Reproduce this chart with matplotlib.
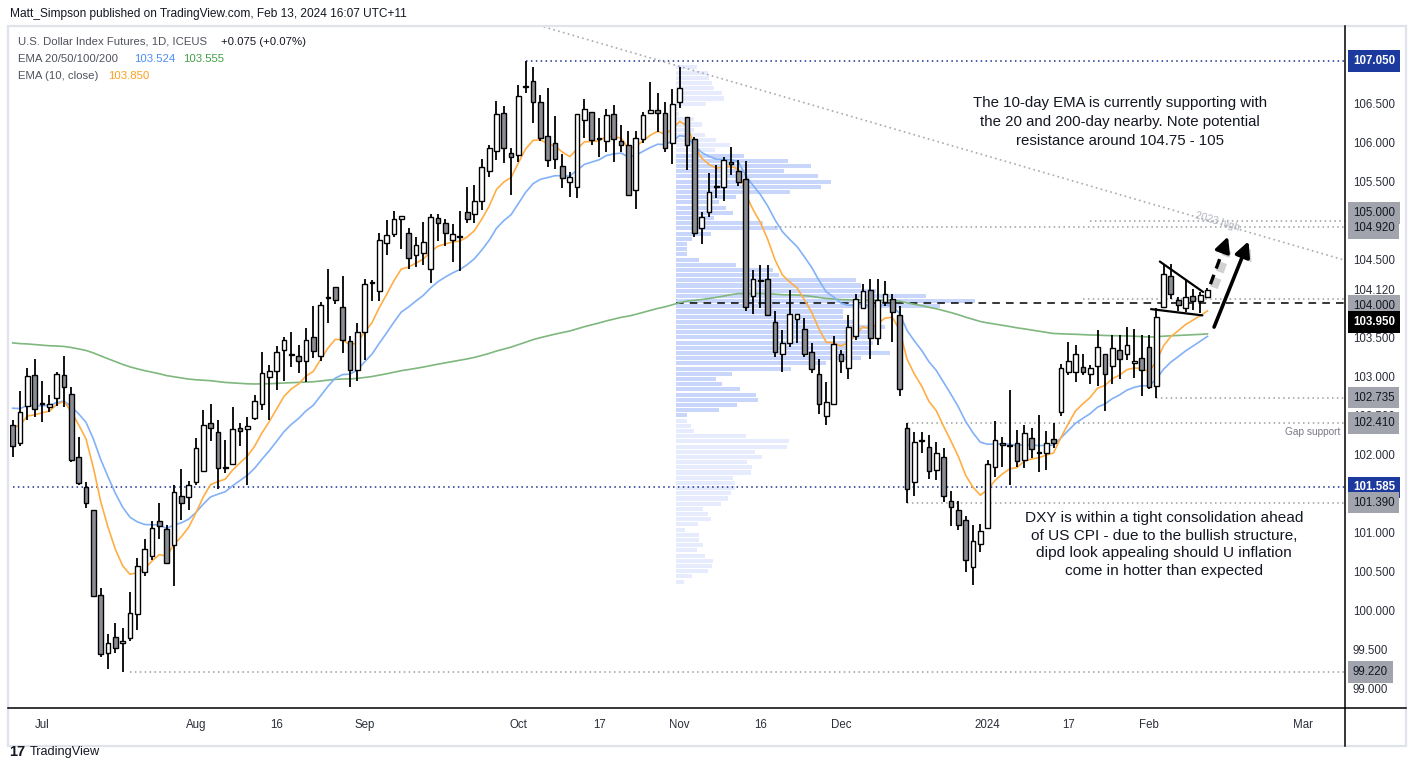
import matplotlib
matplotlib.use("Agg")
import matplotlib.pyplot as plt
import matplotlib.patheffects as pe
from matplotlib.lines import Line2D
from matplotlib.patches import Rectangle
import numpy as np
import pandas as pd

# daily DX futures bars, 27 Jun 2023 .. 13 Feb 2024 (ICE has no bar on Dec 25 / Jan 1)
first_day = "2023-06-27"
holidays = ["2023-12-25", "2024-01-01"]

opens = [102.38, 102.15, 102.63, 103.03, 102.65, 102.62, 102.73, 103.02, 102.78, 101.97,
         101.59, 101.29, 100.20, 99.46, 99.66, 99.59, 99.65, 99.96, 100.50, 100.71,
         101.15, 101.05, 100.84, 101.47, 101.46, 101.65, 101.80, 102.41, 102.29, 101.85,
         101.89, 102.34, 102.33, 102.48, 102.66, 103.00, 103.08, 103.35, 103.30, 103.27,
         103.21, 103.51, 103.27, 104.01, 104.15, 103.90, 103.46, 103.09, 103.58, 104.20,
         104.10, 104.72, 104.83, 105.02, 104.84, 104.56, 104.59, 104.38, 105.04, 104.97,
         104.76, 104.79, 105.12, 105.09, 105.25, 105.64, 105.90, 106.38, 105.87, 105.85,
         106.72, 106.80, 106.52, 106.09, 106.00, 105.71, 105.50, 105.44, 106.29, 106.40,
         106.05, 106.03, 106.37, 106.03, 105.98, 105.40, 106.05, 106.39, 106.42, 106.38,
         106.00, 106.52, 106.33, 106.05, 104.91, 105.12, 105.44, 105.43, 105.75, 105.64,
         105.54, 104.04, 104.23, 104.25, 103.70, 103.30, 103.43, 103.74, 103.62, 103.32,
         103.04, 102.50, 102.65, 103.29, 103.11, 103.52, 103.89, 104.11, 103.50, 103.96,
         104.00, 103.79, 102.35, 101.65, 102.18, 102.10, 101.81, 101.98, 101.41, 101.30,
         101.17, 100.56, 100.86, 101.06, 101.84, 102.16, 102.11, 102.16, 101.94, 102.22,
         102.03, 102.03, 102.20, 102.55, 103.06, 103.07, 103.13, 103.04, 103.14, 103.30,
         103.14, 103.34, 103.30, 103.18, 103.24, 103.38, 102.89, 103.90, 104.30, 103.99,
         103.88, 104.04, 103.97, 104.03]
highs = [102.45, 102.82, 103.11, 103.23, 102.95, 102.77, 103.06, 103.27, 102.87, 102.23,
         101.65, 101.29, 100.29, 99.70, 99.85, 99.78, 100.24, 100.68, 100.92, 101.15,
         101.39, 101.10, 101.61, 101.82, 101.67, 102.22, 102.58, 102.65, 102.45, 102.19,
         102.62, 102.41, 102.49, 102.77, 103.32, 103.15, 103.40, 103.51, 103.58, 103.41,
         103.63, 103.91, 103.96, 104.38, 104.15, 104.29, 103.52, 103.69, 104.26, 104.24,
         104.85, 105.01, 105.13, 105.06, 104.91, 104.80, 104.99, 105.09, 105.09, 105.03,
         104.96, 105.13, 105.44, 105.46, 105.79, 105.97, 106.54, 106.48, 105.93, 106.74,
         107.05, 106.97, 106.62, 106.70, 106.35, 105.86, 105.63, 106.37, 106.56, 106.40,
         106.32, 106.44, 106.49, 106.23, 106.15, 106.15, 106.40, 106.78, 106.64, 106.52,
         106.69, 106.98, 106.33, 106.08, 105.11, 105.61, 105.72, 105.82, 105.95, 105.78,
         105.77, 104.37, 104.44, 104.44, 103.85, 103.60, 104.11, 103.81, 103.75, 103.43,
         103.23, 102.94, 103.53, 103.35, 103.79, 104.07, 104.19, 104.26, 104.26, 104.23,
         104.07, 103.91, 102.41, 102.29, 102.29, 102.26, 102.17, 102.09, 101.54, 101.41,
         101.22, 101.10, 101.12, 101.94, 102.43, 102.23, 102.83, 102.32, 102.38, 102.34,
         102.51, 102.31, 102.41, 103.17, 103.45, 103.41, 103.30, 103.15, 103.60, 103.30,
         103.54, 103.54, 103.64, 103.62, 103.54, 103.54, 103.89, 104.45, 104.45, 104.03,
         104.25, 104.13, 104.09, 104.14]
lows = [101.97, 102.12, 102.45, 102.49, 102.42, 102.55, 102.63, 102.62, 101.91, 101.61,
        101.32, 100.19, 99.41, 99.26, 99.46, 99.22, 99.61, 99.75, 100.45, 100.65,
        100.92, 100.60, 100.32, 101.16, 101.30, 101.62, 101.79, 102.18, 101.56, 101.77,
        101.88, 102.11, 101.61, 102.45, 102.58, 102.45, 102.83, 102.95, 103.13, 103.05,
        102.93, 103.24, 103.20, 103.69, 103.93, 103.31, 102.87, 102.95, 103.22, 103.98,
        103.98, 104.56, 104.80, 104.64, 104.39, 104.41, 104.43, 104.21, 104.74, 104.68,
        104.47, 104.36, 104.97, 104.97, 105.14, 105.57, 105.78, 105.74, 105.33, 105.76,
        106.64, 106.25, 106.02, 105.69, 105.67, 105.42, 105.31, 105.30, 106.07, 105.98,
        105.82, 105.88, 105.75, 105.89, 105.33, 105.16, 106.00, 106.37, 106.14, 105.88,
        105.73, 106.45, 105.65, 104.79, 104.70, 105.05, 105.30, 105.25, 105.59, 105.45,
        103.85, 103.81, 103.89, 103.78, 103.26, 103.07, 103.38, 103.43, 103.26, 103.05,
        102.52, 102.39, 102.64, 103.05, 102.98, 103.48, 103.89, 103.23, 103.41, 103.91,
        103.45, 102.76, 101.38, 101.47, 102.02, 101.69, 101.68, 101.40, 101.09, 101.04,
        100.50, 100.33, 100.75, 101.06, 101.72, 101.85, 101.61, 101.84, 101.83, 101.96,
        101.78, 101.81, 102.09, 102.50, 103.03, 102.93, 103.03, 102.91, 102.89, 102.56,
        102.91, 102.98, 103.22, 102.99, 102.76, 102.85, 102.735, 103.90, 104.00, 103.84,
        103.83, 103.86, 103.82, 104.03]
closes = [102.12, 102.55, 103.01, 102.59, 102.66, 102.65, 103.04, 102.87, 101.94, 101.64,
          101.39, 100.19, 99.45, 99.59, 99.52, 99.62, 99.98, 100.58, 100.79, 101.07,
          101.09, 100.62, 101.53, 101.39, 101.62, 102.09, 102.38, 102.34, 101.83, 101.83,
          102.33, 102.31, 102.37, 102.69, 103.05, 103.08, 103.32, 103.47, 103.28, 103.20,
          103.47, 103.33, 103.92, 104.02, 103.99, 103.47, 103.09, 103.58, 104.19, 104.22,
          104.76, 104.82, 105.02, 105.06, 104.53, 104.69, 104.73, 105.05, 104.98, 104.85,
          104.83, 104.80, 105.03, 105.25, 105.69, 105.93, 106.37, 105.93, 105.82, 106.60,
          106.73, 106.52, 106.06, 105.78, 105.80, 105.55, 105.56, 106.37, 106.43, 106.04,
          106.06, 106.36, 106.05, 105.98, 105.33, 106.07, 106.36, 106.42, 106.38, 105.93,
          106.50, 106.71, 105.97, 104.85, 105.05, 105.37, 105.45, 105.78, 105.73, 105.50,
          103.90, 104.26, 104.24, 103.79, 103.32, 103.44, 103.81, 103.81, 103.30, 103.10,
          102.65, 102.68, 103.42, 103.20, 103.64, 104.00, 104.10, 103.50, 103.99, 104.06,
          103.83, 102.85, 101.57, 102.17, 102.19, 101.80, 102.03, 101.47, 101.33, 101.10,
          100.65, 100.90, 101.02, 101.88, 102.19, 102.13, 102.12, 101.92, 102.28, 102.08,
          102.04, 102.15, 102.15, 103.11, 103.20, 103.30, 103.07, 103.11, 103.39, 103.04,
          103.37, 103.23, 103.41, 103.21, 103.09, 102.87, 103.77, 104.32, 104.06, 103.92,
          104.03, 103.98, 104.05, 104.12]

# EMA state on the day before the first visible bar
ema_seed = {10: 102.40, 20: 102.65, 200: 103.45}

# visible range volume profile, rows from the top (107.0) down, relative volume
vp_top = 106.97
vp_row = 0.0666
vp_volume = [21, 32, 33, 36, 38, 46, 48, 30, 2, 3, 18, 26, 18, 29, 40, 54, 39, 68, 112, 135,
             108, 142, 155, 145, 114, 60, 43, 50, 57, 38, 87, 102, 35, 16, 11, 11, 11, 23, 60, 97,
             103, 180, 185, 200, 250, 299, 264, 167, 167, 180, 209, 200, 195, 197, 195, 214, 185, 150, 115, 56,
             40, 46, 64, 80, 82, 61, 43, 11, 11, 15, 18, 70, 113, 111, 79, 86, 71, 76, 75, 57,
             59, 59, 55, 52, 45, 27, 32, 35, 22, 9, 23, 23, 27, 21, 29, 37, 36, 32, 16, 8]
vp_value_area = (17, 67)
vp_start = "2023-11-01"

tick_dates = ["2023-07-03", "2023-08-01", "2023-08-16", "2023-09-01", "2023-10-02", "2023-10-17",
              "2023-11-01", "2023-11-16", "2023-12-01", "2024-01-02", "2024-01-17", "2024-02-01",
              "2024-03-01"]
tick_text = ["Jul", "Aug", "16", "Sep", "Oct", "17", "Nov", "16", "Dec", "2024", "17", "Feb", "Mar"]

price_ticks = [106.5, 106.0, 105.5, 104.5, 104.12, 103.5, 103.0, 102.5, 102.0, 101.0, 100.5, 100.0, 99.5, 99.0]

# horizontal levels: (price, start date, kind)
levels = [(107.05, "2023-10-03", "navy"), (101.585, "2023-06-20", "navy"),
          (105.0, "2024-01-22", "grey"), (104.92, "2023-11-20", "grey"), (104.0, "2024-01-19", "grey"),
          (102.735, "2024-02-02", "grey"), (102.41, "2023-12-14", "grey"), (101.39, "2023-12-14", "grey"),
          (99.22, "2023-07-19", "grey")]
dashed_level = (103.95, "2023-10-31")

# price-scale labels: (price, kind, nudge in px so neighbours don't collide)
badges = [(107.05, "navy", 0), (105.0, "grey", -8), (104.92, "grey", 1), (104.0, "grey", 7),
          (103.95, "black", 19), (102.735, "grey", 0), (102.41, "grey", 0), (101.585, "navy", 0),
          (101.39, "grey", 0), (99.22, "grey", 0)]

# drawings, in (bar number, price)
trend_line = [(60, 107.83), (182, 104.49)]
wedge_top = [(156.5, 104.48), (162.4, 104.09)]
wedge_bottom = [(155.3, 103.87), (162.3, 103.79)]
arrow_dashed = [(163.4, 104.19), (165.8, 104.80)]
arrow_solid = [(163.9, 103.64), (168.6, 104.74)]

note_top = ("The 10-day EMA is currently supporting with\n"
            "the 20 and 200-day nearby. Note potential\n"
            "resistance around 104.75 - 105")
note_bottom = ("DXY is within a tight consolidation ahead\n"
               "of US CPI - due to the bullish structure,\n"
               "dipd look appealing should U inflation\n"
               "come in hotter than expected")

plt.rcParams['font.family'] = ['Liberation Sans', 'DejaVu Sans']

W, H = 1411, 770
def fx(x):
    return x / W
def fy(y):
    return 1 - y / H

days = pd.bdate_range(first_day, "2024-03-29")
days = days[~days.isin(pd.to_datetime(holidays))]
def bar_of(d):
    return int(days.searchsorted(pd.Timestamp(d)))

o = np.array(opens)
h = np.array(highs)
l = np.array(lows)
c = np.array(closes)
x = np.arange(len(c))

def ema(values, span, seed):
    a = 2.0 / (span + 1)
    out, prev = [], seed
    for v in values:
        prev = a * v + (1 - a) * prev
        out.append(prev)
    return np.array(out)

fig = plt.figure(figsize=(W / 100, H / 100), dpi=100)
fig.patch.set_facecolor('white')
ax = fig.add_axes([fx(10), fy(708), fx(1345) - fx(10), fy(26) - fy(708)])
ax.set_xlim(-0.37, 181.76)
ax.set_ylim(98.756, 107.5)
for s in ax.spines.values():
    s.set_visible(False)

# volume profile
vp_prices = vp_top - vp_row * np.arange(len(vp_volume))
bar_px = 7.33
vp_left = bar_of(vp_start) - 0.5
vp_cols = ['#c9d6fb' if vp_value_area[0] <= i <= vp_value_area[1] else '#e6ecfd'
           for i in range(len(vp_volume))]
ax.barh(vp_prices, np.array(vp_volume) / bar_px, left=vp_left, height=vp_row * 0.78,
        color=vp_cols, zorder=1)

# levels
for price, start, kind in levels:
    col = '#1c2f8f' if kind == 'navy' else '#9a9ca3'
    ax.hlines(price, bar_of(start), 182, colors=col, linestyles=(0, (1, 2.2)), lw=1.1, zorder=1.5)
ax.hlines(dashed_level[0], bar_of(dashed_level[1]) + 0.5, 182, colors='black',
          linestyles=(0, (5, 4)), lw=1.1, zorder=1.6)

# EMAs
ax.plot(x, ema(c, 200, ema_seed[200]), color='#7fb77e', lw=1.2, zorder=2)
ax.plot(x, ema(c, 20, ema_seed[20]), color='#82b1f7', lw=1.2, zorder=2)
ax.plot(x, ema(c, 10, ema_seed[10]), color='#ffae45', lw=1.2, zorder=2)

# candles
up = c >= o
ax.vlines(x, l, h, colors='black', lw=1.3, zorder=3)
body = np.maximum(np.abs(c - o), 0.012)
ax.bar(x, body, bottom=np.minimum(o, c), width=0.64,
       color=np.where(up, 'white', '#8b8d95'), edgecolor='black', lw=1.0, zorder=4)

# trend line + label
tl = np.array(trend_line)
ax.plot(tl[:, 0], tl[:, 1], color='#a8aab0', ls=(0, (1, 2)), lw=1.2, zorder=1.5)
slope = (tl[1, 1] - tl[0, 1]) / (tl[1, 0] - tl[0, 0])
lx = 164.3
ax.text(lx, tl[0, 1] + slope * (lx - tl[0, 0]) + 0.02, "2023 high", fontsize=7.5,
        color='#b2b5be', rotation=-16.3, ha='center', va='center', rotation_mode='anchor', zorder=5)

# wedge
for seg in (wedge_top, wedge_bottom):
    s = np.array(seg)
    ax.plot(s[:, 0], s[:, 1], color='black', lw=1.6, zorder=6, solid_capstyle='round')

shadow = [pe.SimpleLineShadow(offset=(2.5, -2.5), shadow_color='#000000', alpha=0.18, linewidth=6),
          pe.Normal()]
a0, a1 = np.array(arrow_dashed)
tip_back = a1 - (a1 - a0) * 0.22
ax.plot([a0[0], tip_back[0]], [a0[1], tip_back[1]], color='black', lw=2.4,
        ls=(0, (3, 2)), zorder=6, path_effects=shadow)
ax.annotate('', xy=tuple(a1), xytext=tuple(tip_back),
            arrowprops=dict(arrowstyle='-|>,head_length=0.9,head_width=0.45', color='black', lw=2.4,
                            shrinkA=0, shrinkB=0), zorder=6)
b0, b1 = np.array(arrow_solid)
ax.annotate('', xy=tuple(b1), xytext=tuple(b0),
            arrowprops=dict(arrowstyle='-|>,head_length=0.9,head_width=0.45', color='black', lw=2.6,
                            shrinkA=0, shrinkB=0,
                            path_effects=[pe.SimplePatchShadow(offset=(2.5, -2.5), alpha=0.18),
                                          pe.Normal()]), zorder=6)

# notes
ax.text(151.1, 106.27, note_top, ha='center', va='center', fontsize=10.8, color='#131722',
        linespacing=1.42, zorder=7)
ax.text(157.1, 100.85, note_bottom, ha='center', va='center', fontsize=11.1, color='#131722',
        linespacing=1.32, zorder=7)
ax.text(173.6, 102.30, "Gap support", ha='left', va='center', fontsize=7.3, color='#787b86', zorder=7)

# x axis
ax.set_xticks([bar_of(d) for d in tick_dates])
ax.set_xticklabels(tick_text)
ax.tick_params(axis='x', length=0, pad=8, labelsize=8.3, labelcolor='#2a2e39')

# price axis
ax.yaxis.tick_right()
ax.set_yticks(price_ticks)
ax.set_yticklabels([f"{v:.3f}" for v in price_ticks])
ax.tick_params(axis='y', length=0, pad=5.6, labelsize=8.3, labelcolor='#2a2e39')

badge_style = {'navy': ('#1c3a9e', 'white'), 'grey': ('#a1a4ac', '#131722'), 'black': ('#000000', 'white')}
for price, kind, nudge in badges:
    bg, fg = badge_style[kind]
    ax.annotate(f"{price:.3f}", xy=(1, price), xycoords=('axes fraction', 'data'),
                xytext=(5.6, -nudge * 0.72), textcoords='offset points', ha='left', va='center',
                fontsize=8.3, color=fg, fontweight='bold' if kind != 'grey' else 'normal',
                bbox=dict(boxstyle='square,pad=0.42', fc=bg, ec='none'),
                annotation_clip=False, zorder=10)

# frame and axis lines
fig.add_artist(Rectangle((fx(8), fy(746)), fx(1406) - fx(8), fy(26) - fy(746),
                         transform=fig.transFigure, fill=False, ec='#e0e3eb', lw=1.6))
fig.add_artist(Line2D([fx(1345), fx(1345)], [fy(26), fy(746)], color='black', lw=1.1))
fig.add_artist(Line2D([fx(8), fx(1406)], [fy(708), fy(708)], color='black', lw=1.1))

# header + legend
fig.text(fx(10), fy(14), "Matt_Simpson published on TradingView.com, Feb 13, 2024 16:07 UTC+11",
         fontsize=8.6, color='#131722', va='center')
grey = '#50535e'
fig.text(fx(18), fy(42), "U.S. Dollar Index Futures, 1D, ICEUS", fontsize=8.2, color=grey, va='center')
fig.text(fx(221), fy(42), "+0.075 (+0.07%)", fontsize=8.2, color='#131722', va='center')
fig.text(fx(18), fy(59), "EMA 20/50/100/200", fontsize=8.2, color=grey, va='center')
fig.text(fx(134), fy(59), "103.524", fontsize=8.2, color='#4d8ef7', va='center')
fig.text(fx(183), fy(59), "103.555", fontsize=8.2, color='#43a047', va='center')
fig.text(fx(18), fy(76), "EMA (10, close)", fontsize=8.2, color=grey, va='center')
fig.text(fx(108), fy(76), "103.850", fontsize=8.2, color='#ff9f1c', va='center')

# footer logo
fig.text(fx(9), fy(752), "17", fontsize=10.5, fontweight='heavy', color='#131722', va='center')
fig.text(fx(30), fy(752), "TradingView", fontsize=9.2, color='#131722', va='center')

fig.savefig("out.png", dpi=100)
